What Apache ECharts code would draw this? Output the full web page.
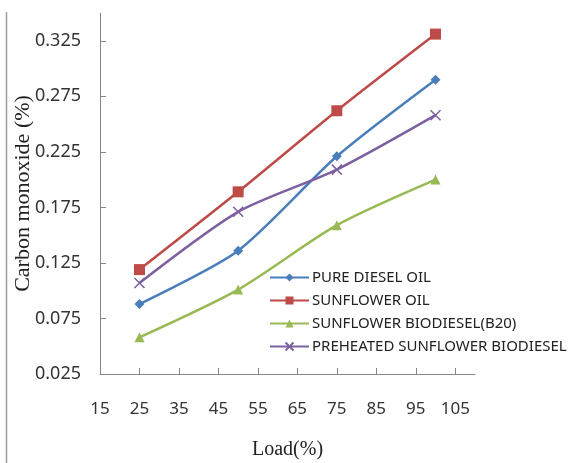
<!DOCTYPE html>
<html>
<head>
<meta charset="utf-8">
<script src="https://cdn.jsdelivr.net/npm/echarts@6/dist/echarts.min.js"></script>
<style>
  html, body { margin: 0; padding: 0; background: #fff; }
  #chart { width: 574px; height: 463px; }
</style>
</head>
<body>
<div id="chart"></div>
<script>
// Engine load (%) at which CO emissions were measured
const loads = [25, 50, 75, 100];

// Carbon monoxide (%) per fuel
const pureDiesel = [0.088, 0.136, 0.221, 0.290];
const sunflowerOil = [0.119, 0.189, 0.262, 0.331];
const biodieselB20 = [0.058, 0.101, 0.159, 0.200];
const preheatedBiodiesel = [0.107, 0.171, 0.209, 0.258];

// Tick labels
const xTicks = [15, 25, 35, 45, 55, 65, 75, 85, 95, 105];
const yTicks = [0.025, 0.075, 0.125, 0.175, 0.225, 0.275, 0.325];

const seriesNames = [
  'PURE DIESEL OIL',
  'SUNFLOWER OIL',
  'SUNFLOWER BIODIESEL(B20)',
  'PREHEATED SUNFLOWER BIODIESEL'
];

const pair = arr => loads.map((x, i) => [x, arr[i]]);

const axisColor = '#868686';

const chart = echarts.init(document.getElementById('chart'), null, { renderer: 'canvas' });

function lineSeries(name, data, color, symbol, size, extraItem) {
  return {
    name: name,
    type: 'line',
    data: pair(data),
    smooth: 0.25,
    symbol: symbol,
    symbolSize: size,
    showSymbol: true,
    lineStyle: { color: color, width: 2.5 },
    itemStyle: Object.assign({ color: color }, extraItem || {}),
    emphasis: { disabled: true },
    z: 3
  };
}

chart.setOption({
  animation: false,
  backgroundColor: '#fff',
  grid: { left: 100, top: 13, right: 99, bottom: 89, containLabel: false, outerBoundsMode: 'none' },
  legend: {
    orient: 'vertical',
    left: 264,
    top: 265,
    itemWidth: 39,
    itemHeight: 10,
    itemGap: 8,
    data: seriesNames,
    textStyle: { fontFamily: 'Noto Sans', fontSize: 15, color: '#222', padding: [0, 0, 0, -2] }
  },
  xAxis: {
    type: 'value',
    min: 15,
    max: 110,
    interval: 10,
    name: 'Load(%)',
    nameLocation: 'middle',
    nameGap: 66,
    nameMoveOverlap: false,
    nameTextStyle: { fontFamily: 'Liberation Serif', fontSize: 20, color: '#222' },
    axisLine: { show: true, lineStyle: { color: axisColor, width: 1 } },
    axisTick: { show: true, inside: true, length: 6, customValues: xTicks, lineStyle: { color: axisColor } },
    axisLabel: { margin: 27, customValues: xTicks, fontFamily: 'Noto Sans', fontSize: 17, color: '#333' },
    splitLine: { show: false }
  },
  yAxis: {
    type: 'value',
    min: 0.025,
    max: 0.35,
    interval: 0.05,
    name: 'Carbon monoxide (%)',
    nameLocation: 'middle',
    nameRotate: 90,
    nameGap: 66,
    nameMoveOverlap: false,
    nameTextStyle: { fontFamily: 'Liberation Serif', fontSize: 22, color: '#222' },
    axisLine: { show: true, lineStyle: { color: axisColor, width: 1 } },
    axisTick: { show: true, inside: true, length: 6, customValues: yTicks, lineStyle: { color: axisColor } },
    axisLabel: { margin: 19, customValues: yTicks, formatter: v => v.toFixed(3), fontFamily: 'Noto Sans', fontSize: 18, color: '#333' },
    splitLine: { show: false }
  },
  graphic: [{
    type: 'line',
    shape: { x1: 6.5, y1: 12, x2: 6.5, y2: 463 },
    style: { stroke: '#9a9a9a', lineWidth: 1.5 },
    silent: true
  }],
  series: [
    lineSeries(seriesNames[0], pureDiesel, '#4A7EBB', 'diamond', 10),
    lineSeries(seriesNames[1], sunflowerOil, '#BE4B48', 'rect', 11),
    lineSeries(seriesNames[2], biodieselB20, '#98B954', 'triangle', 10),
    lineSeries(seriesNames[3], preheatedBiodiesel, '#7D60A0',
      'path://M0,0L10,10M10,0L0,10', 10,
      { borderColor: '#7D60A0', borderWidth: 1.5 })
  ]
});
</script>
</body>
</html>
